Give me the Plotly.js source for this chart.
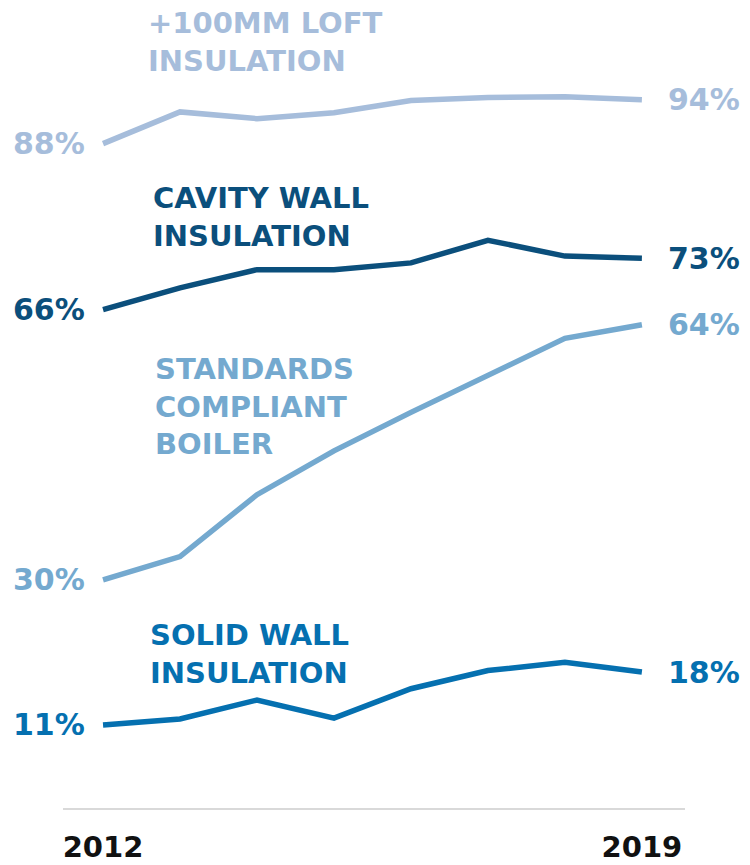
<!DOCTYPE html>
<html>
<head>
<meta charset="utf-8">
<script src="https://cdn.plot.ly/plotly-3.0.1.min.js"></script>
<style>html,body{margin:0;padding:0;background:#fff;}#chart{width:750px;height:865px;}</style>
</head>
<body>
<div id="chart"></div>
<script>
const years = [2012, 2013, 2014, 2015, 2016, 2017, 2018, 2019];
const loft = [88, 92.2, 91.3, 92.1, 93.7, 94.1, 94.2, 93.8];
const cavity = [66, 68.9, 71.3, 71.3, 72.2, 75.2, 73.1, 72.8];
const boiler = [30.2, 33.3, 41.5, 47.3, 52.4, 57.3, 62.2, 64.0];
const solid = [11, 11.8, 14.3, 11.9, 15.8, 18.2, 19.3, 18.0];
const seriesNames = ["+100MM LOFT<br>INSULATION", "CAVITY WALL<br>INSULATION", "STANDARDS<br>COMPLIANT<br>BOILER", "SOLID WALL<br>INSULATION"];
const startLabels = ["88%", "66%", "30%", "11%"];
const endLabels = ["94%", "73%", "64%", "18%"];
const tickLabels = ["2012", "2019"];

const colors = ["#a6bddb", "#0b4f7c", "#74a9cf", "#0570b0"];
const series = [loft, cavity, boiler, solid];
const nameY = [1.015, 0.783, 0.532, 0.204];
const nameX = [2012.56, 2012.62, 2012.65, 2012.58];
const FONT = "DejaVu Sans, Verdana, sans-serif";

const traces = series.map((s, i) => ({
  x: years, y: s, type: "scatter", mode: "lines",
  line: {color: colors[i], width: 5.5}, hoverinfo: "skip", showlegend: false
}));

const annotations = [];
series.forEach((s, i) => {
  annotations.push({x: years[0], y: s[0], xref: "x", yref: "y", text: "<b>" + startLabels[i] + "</b>",
    showarrow: false, xanchor: "right", yanchor: "middle", xshift: -16,
    font: {family: FONT, size: 30, color: colors[i]}});
  annotations.push({x: years[years.length - 1], y: s[s.length - 1], xref: "x", yref: "y", text: "<b>" + endLabels[i] + "</b>",
    showarrow: false, xanchor: "left", yanchor: "middle", xshift: 24,
    font: {family: FONT, size: 30, color: colors[i]}});
  annotations.push({x: nameX[i], y: nameY[i], xref: "x", yref: "paper", text: "<b>" + seriesNames[i] + "</b>",
    showarrow: false, xanchor: "left", yanchor: "middle", align: "left",
    font: {family: FONT, size: 29, color: colors[i]}});
});

const layout = {
  width: 750, height: 865,
  margin: {l: 63, r: 65, t: 53, b: 57},
  paper_bgcolor: "#ffffff", plot_bgcolor: "#ffffff",
  showlegend: false,
  xaxis: {
    range: [2011.48, 2019.56], showgrid: false, zeroline: false,
    showline: true, linecolor: "#d9d9d9", linewidth: 2,
    tickvals: [2012, 2019], ticktext: tickLabels, ticks: "",
    ticklabelstandoff: 12,
    tickfont: {family: FONT, size: 29, color: "#111111", weight: "bold"}
  },
  yaxis: {range: [0, 100], visible: false, showgrid: false, zeroline: false},
  annotations: annotations
};

Plotly.newPlot("chart", traces, layout, {staticPlot: true, displayModeBar: false});
</script>
</body>
</html>
